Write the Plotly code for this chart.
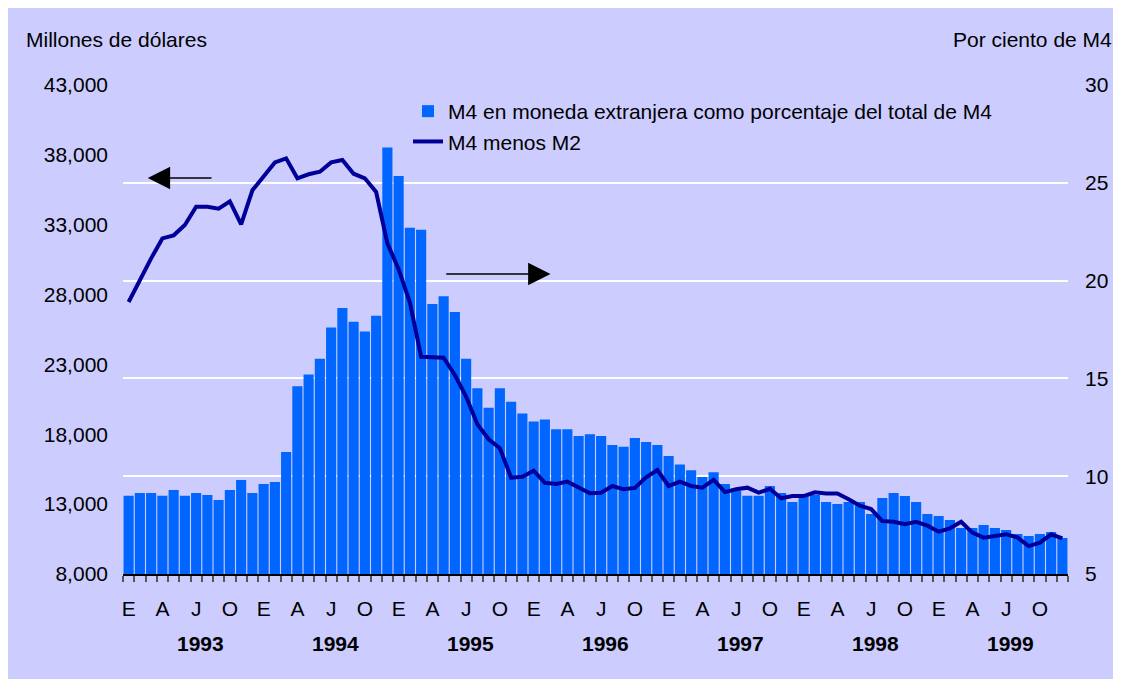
import plotly.graph_objects as go

# meses ene-1993 .. dic-1999 (indice 0..83)
meses = list(range(84))

# M4 en moneda extranjera como % del total de M4 (eje derecho)
pct_m4 = [
    9.0, 9.14, 9.14, 9.0, 9.3, 9.0, 9.14, 9.04, 8.78, 9.3, 9.8, 9.14,
    9.6, 9.7, 11.24, 14.6, 15.2, 16.0, 17.6, 18.6, 17.9, 17.4, 18.2, 26.8,
    25.35, 22.7, 22.6, 18.8, 19.2, 18.4, 16.0, 14.5, 13.5, 14.5, 13.8, 13.2,
    12.8, 12.9, 12.4, 12.4, 12.05, 12.15, 12.05, 11.6, 11.5, 11.95, 11.75, 11.6,
    11.03, 10.6, 10.3, 9.96, 10.2, 9.6, 9.24, 9.0, 9.0, 9.5, 9.14, 8.68,
    9.04, 9.04, 8.68, 8.58, 8.68, 8.68, 8.07, 8.89, 9.14, 8.99, 8.68, 8.07,
    7.97, 7.76, 7.35, 7.35, 7.5, 7.35, 7.25, 7.05, 6.94, 7.05, 7.15, 6.84,
]

# M4 menos M2, millones de dolares (eje izquierdo)
m4_menos_m2 = [
    27470, 29040, 30590, 32020, 32240, 32980, 34290, 34290, 34150, 34670, 33030, 35460,
    36480, 37460, 37750, 36320, 36610, 36790, 37460, 37630, 36650, 36320, 35340, 31670,
    29820, 27430, 23550, 23480, 23480, 22240, 20690, 18720, 17640, 17000, 14890, 14960,
    15390, 14530, 14440, 14610, 14200, 13780, 13820, 14300, 14060, 14160, 14920, 15440,
    14300, 14610, 14300, 14180, 14730, 13860, 14060, 14180, 13820, 14100, 13420, 13580,
    13580, 13850, 13770, 13770, 13350, 12890, 12650, 11790, 11740, 11560, 11740, 11460,
    11030, 11270, 11740, 10960, 10600, 10720, 10840, 10620, 10000, 10240, 10840, 10550,
]

letras_trimestre = ["E", "A", "J", "O"]
anios = ["1993", "1994", "1995", "1996", "1997", "1998", "1999"]

tick_pos = [m for m in meses if m % 3 == 0]
tick_txt = [letras_trimestre[(m % 12) // 3] for m in tick_pos]

FONT = "Liberation Sans, Arial, sans-serif"
FS = 21
OFF = 8  # margen del body de la pagina
W, H = 1121 - OFF, 687 - 2 * OFF
L, R, T, B = 123 - OFF, 53, 85 - OFF, 113 - OFF
pw, ph = W - L - R, H - T - B
BOT = 574  # fondo del grafico en px de la referencia


def py(y):
    # px (referencia) -> coordenada paper
    return (BOT - y) / ph


def px(x):
    return (x - 123) / pw


fig = go.Figure()

fig.add_trace(go.Bar(
    x=meses, y=pct_m4,
    name="M4 en moneda extranjera como porcentaje del total de M4",
    marker=dict(color="#0066FF", line=dict(width=0)),
    yaxis="y",
))

fig.add_trace(go.Scatter(
    x=meses, y=m4_menos_m2,
    name="M4 menos M2",
    mode="lines",
    line=dict(color="#000099", width=4),
    yaxis="y2",
))

# flechas
fig.add_annotation(x=1.7, y=36340, ax=7.5, ay=36340, xref="x", yref="y2",
                   axref="x", ayref="y2", text="", showarrow=True,
                   arrowhead=2, arrowsize=2.8, arrowwidth=1.6, arrowcolor="black")
fig.add_annotation(x=37.5, y=29470, ax=28.1, ay=29470, xref="x", yref="y2",
                   axref="x", ayref="y2", text="", showarrow=True,
                   arrowhead=2, arrowsize=2.8, arrowwidth=1.6, arrowcolor="black")

# años
for k, a in enumerate(anios):
    fig.add_annotation(x=12 * k + 6.4, y=py(643), xref="x", yref="paper",
                       xanchor="center", yanchor="middle",
                       text="<b>" + a + "</b>", showarrow=False,
                       font=dict(size=FS, color="black", family=FONT))

fig.add_annotation(x=px(24), y=py(39), xref="paper", yref="paper",
                   xanchor="left", yanchor="middle", text="Millones de dólares",
                   showarrow=False, font=dict(size=FS, color="black", family=FONT))
fig.add_annotation(x=px(1114), y=py(39), xref="paper", yref="paper",
                   xanchor="right", yanchor="middle", text="Por ciento de M4",
                   showarrow=False, font=dict(size=FS, color="black", family=FONT))

fig.update_layout(
    width=W, height=H,
    margin=dict(l=L, r=R, t=T, b=B),
    paper_bgcolor="#CCCCFF",
    plot_bgcolor="#CCCCFF",
    font=dict(family=FONT, size=FS, color="black"),
    bargap=0.1,
    showlegend=True,
    legend=dict(x=px(408), y=py(91), xanchor="left", yanchor="top",
                bgcolor="rgba(0,0,0,0)", font=dict(size=FS, family=FONT),
                traceorder="normal", tracegroupgap=0, itemwidth=30),
    xaxis=dict(
        range=[-0.5, 83.5], tickmode="array", tickvals=tick_pos, ticktext=tick_txt,
        ticks="", showgrid=False, zeroline=False,
        showline=True, linecolor="black", linewidth=1.5,
        ticklabelstandoff=15,
        minor=dict(tickmode="linear", tick0=-0.5, dtick=1, ticks="outside",
                   ticklen=6, tickcolor="#555555", tickwidth=1.5, showgrid=False),
        tickfont=dict(size=FS),
    ),
    yaxis=dict(
        side="right", range=[5, 30], dtick=5, tick0=5,
        showgrid=True, gridcolor="white", gridwidth=1.5,
        zeroline=False, showline=False, ticks="",
        ticklabelstandoff=16, tickfont=dict(size=FS),
    ),
    yaxis2=dict(
        side="left", overlaying="y", range=[8000, 43000], dtick=5000, tick0=8000,
        tickformat=",", showgrid=False, zeroline=False, showline=False, ticks="",
        ticklabelstandoff=14, tickfont=dict(size=FS),
    ),
)

fig.write_html("out.html")
